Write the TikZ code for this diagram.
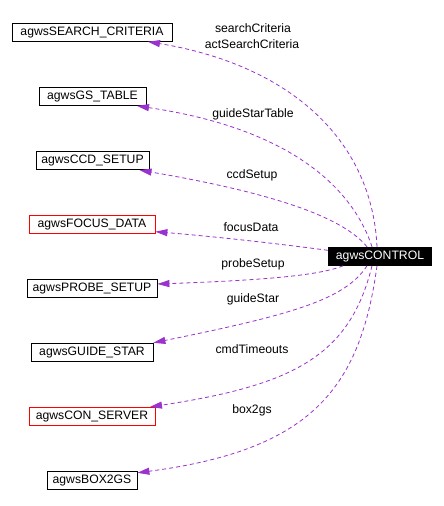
\documentclass[tikz,border=0pt]{standalone}
\usepackage{fontspec}
\setmainfont{Liberation Sans}
\usetikzlibrary{arrows.meta}
\definecolor{edgec}{HTML}{9A32CD}
\begin{document}
\begin{tikzpicture}[x=1pt,y=-1pt,
  every node/.style={font=\fontsize{12.2}{16}\selectfont, inner sep=0pt, text height=9pt, text depth=2.5pt},
  cls/.style={draw=black, line width=0.8pt, minimum height=18pt, fill=white},
  redcls/.style={cls, draw=red},
  mainbox/.style={fill=black, text=white, minimum height=18.7pt, minimum width=104pt},
  dep/.style={draw=edgec, line width=0.8pt, dash pattern=on 4pt off 3pt, -{Triangle[length=12pt,width=7pt]}}
]
\useasboundingbox[fill=white] (0,0) rectangle (444,506);

\node[cls, minimum width=160pt] (sc) at (92,32.3) {agwsSEARCH\_CRITERIA};
\node[cls, minimum width=107pt] (gs) at (92.5,96.5) {agwsGS\_TABLE};
\node[cls, minimum width=113pt] (ccd) at (92.5,160.7) {agwsCCD\_SETUP};
\node[redcls, minimum width=126pt] (focus) at (92,224.7) {agwsFOCUS\_DATA};
\node[cls, minimum width=130pt] (probe) at (92,288.3) {agwsPROBE\_SETUP};
\node[mainbox] (ctl) at (380,256.3) {agwsCONTROL};
\node[cls, minimum width=122pt] (guide) at (92,352.2) {agwsGUIDE\_STAR};
\node[redcls, minimum width=126pt] (cs) at (92,416.3) {agwsCON\_SERVER};
\node[cls, minimum width=90pt] (box) at (92,480.3) {agwsBOX2GS};

\draw[dep] ([xshift=-3pt]ctl.north) .. controls (372,140) and (290,65) .. ([xshift=56pt]sc.south);
\draw[dep] ([xshift=-8pt]ctl.north) .. controls (355,195) and (300,130) .. ([xshift=44.5pt]gs.south);
\draw[dep] ([xshift=-13pt]ctl.north) .. controls (345,220) and (285,195) .. ([xshift=47pt]ccd.south);
\draw[dep] ([yshift=6pt]ctl.west) .. controls (280,244) and (220,237) .. ([yshift=-7pt]focus.east);
\draw[dep] ([xshift=-37pt]ctl.south) .. controls (320,275) and (270,280) .. ([yshift=4.3pt]probe.east);
\draw[dep] ([xshift=-13pt]ctl.south) .. controls (345,300) and (290,315) .. (guide.north east);
\draw[dep] ([xshift=-8pt]ctl.south) .. controls (350,355) and (295,385) .. ([xshift=58pt]cs.north);
\draw[dep] ([xshift=-3pt]ctl.south) .. controls (360,390) and (310,450) .. ([yshift=7.5pt]box.east);

\node (l1a) at (253,29) {searchCriteria};
\node (l1b) at (252,45) {actSearchCriteria};
\node (l2) at (253,114) {guideStarTable};
\node (l3) at (252,175) {ccdSetup};
\node (l4) at (251,228) {focusData};
\node (l5) at (253,264) {probeSetup};
\node (l6) at (253,299) {guideStar};
\node (l7) at (252,350) {cmdTimeouts};
\node (l8) at (252,410) {box2gs};
\end{tikzpicture}
\end{document}
